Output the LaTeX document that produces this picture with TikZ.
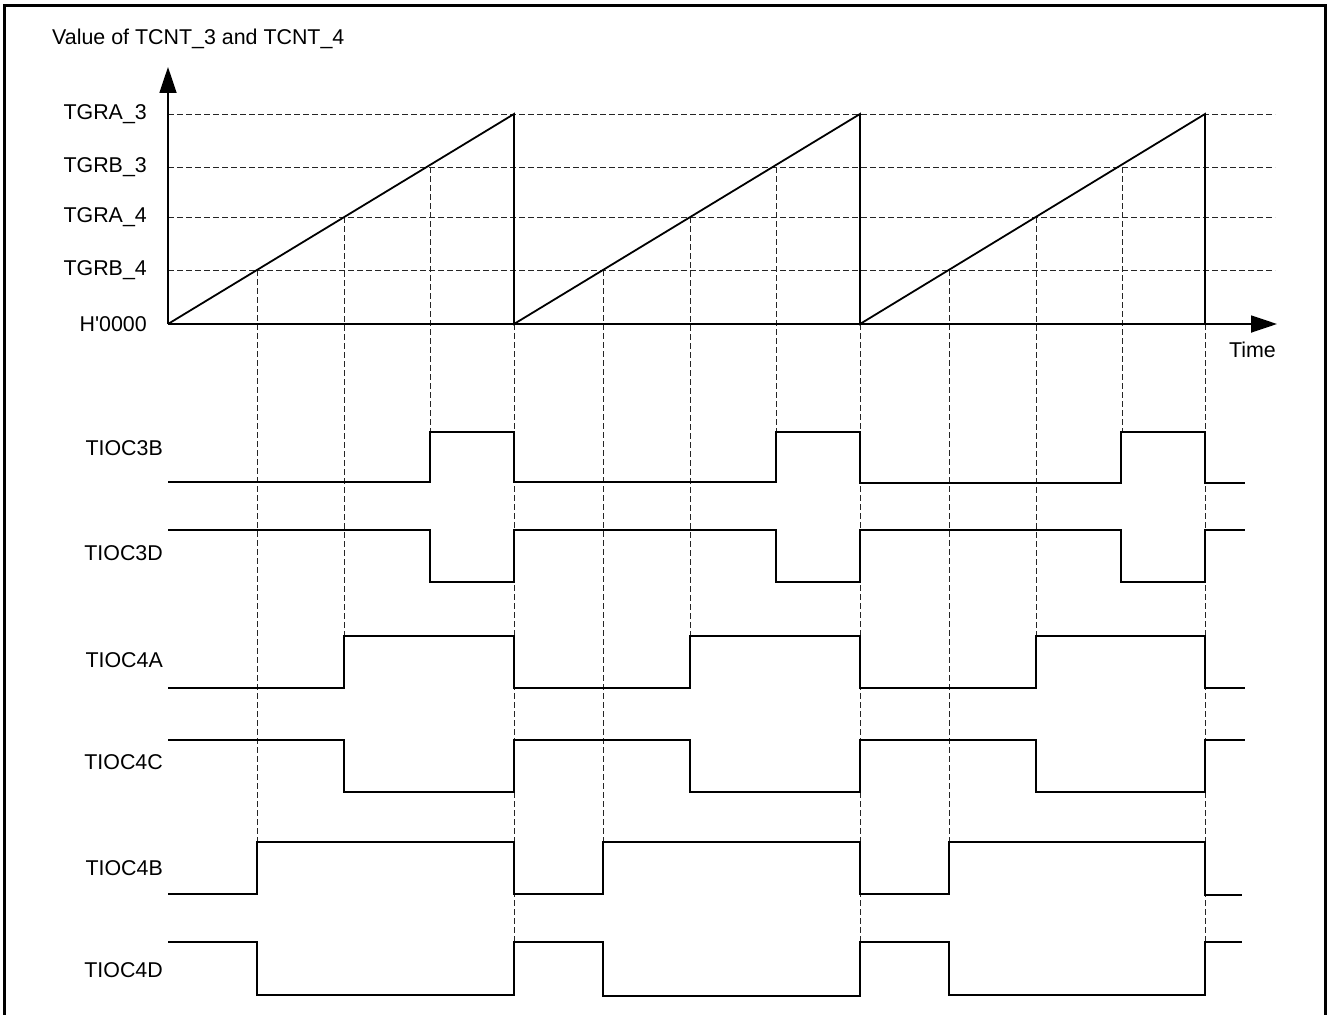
\documentclass[tikz,border=0pt]{standalone}
\usepackage{fontspec}
\setmainfont{Liberation Sans}
\usetikzlibrary{arrows.meta}
\begin{document}
\begin{tikzpicture}[x=1pt,y=-1pt,
  every node/.style={font=\fontsize{21.4}{25}\selectfont, inner sep=0pt},
  guide/.style={line width=0.9pt, dash pattern=on 5.5pt off 3.5pt, black!85},
  sig/.style={line width=1.8pt, line join=miter},
  axisline/.style={line width=1.8pt, -{Triangle[length=26pt,width=17pt]}},
  framel/.style={line width=3pt}]
\useasboundingbox (0,0) rectangle (1327,1014);
% frame
\draw[framel] (4,1020) -- (4,6) -- (1325,6) -- (1325,1020);
% title and axis labels
\node[anchor=west] (title) at (52,39) {Value of TCNT\_3 and TCNT\_4};
\node[anchor=east] (la3) at (147,114) {TGRA\_3};
\node[anchor=east] (lb3) at (147,167) {TGRB\_3};
\node[anchor=east] (la4) at (147,217) {TGRA\_4};
\node[anchor=east] (lb4) at (147,270) {TGRB\_4};
\node[anchor=east] (lz) at (147,324) {H\textquotesingle 0000};
\node[anchor=east] (time) at (1276,350) {Time};
% horizontal guide lines
\foreach \y in {114,167,217,270} \draw[guide] (168,\y) -- (1275,\y);
% vertical guide lines
\foreach \s in {0,346,692} {
  \draw[guide] (257+\s,270) -- (257+\s,842);
  \draw[guide] (344+\s,217) -- (344+\s,636);
  \draw[guide] (430+\s,167) -- (430+\s,432);
}
\foreach \x in {514,860,1205} \draw[guide] (\x,324) -- (\x,942);
% axes
\draw[axisline] (168,324) -- (168,67);
\draw[axisline] (168,324) -- (1277,324);
% ramp
\draw[sig] (168,324) -- (514,114) -- (514,324) -- (860,114) -- (860,324) -- (1205,114) -- (1205,324);
% signal labels
\node[anchor=east] (s1) at (163,448) {TIOC3B};
\node[anchor=east] (s2) at (163,553) {TIOC3D};
\node[anchor=east] (s3) at (163,660) {TIOC4A};
\node[anchor=east] (s4) at (163,762) {TIOC4C};
\node[anchor=east] (s5) at (163,868) {TIOC4B};
\node[anchor=east] (s6) at (163,970) {TIOC4D};
% TIOC3B
\draw[sig] (168,482) -- (430,482) -- (430,432) -- (514,432) -- (514,482) -- (776,482) -- (776,432) -- (860,432) -- (860,483) -- (1121,483) -- (1121,432) -- (1205,432) -- (1205,483) -- (1245,483);
% TIOC3D
\draw[sig] (168,530) -- (430,530) -- (430,582) -- (514,582) -- (514,530) -- (776,530) -- (776,582) -- (860,582) -- (860,530) -- (1121,530) -- (1121,582) -- (1205,582) -- (1205,530) -- (1245,530);
% TIOC4A
\draw[sig] (168,688) -- (344,688) -- (344,636) -- (514,636) -- (514,688) -- (690,688) -- (690,636) -- (860,636) -- (860,688) -- (1036,688) -- (1036,636) -- (1205,636) -- (1205,688) -- (1245,688);
% TIOC4C
\draw[sig] (168,740) -- (344,740) -- (344,792) -- (514,792) -- (514,740) -- (690,740) -- (690,792) -- (860,792) -- (860,740) -- (1036,740) -- (1036,792) -- (1205,792) -- (1205,740) -- (1245,740);
% TIOC4B
\draw[sig] (168,894) -- (257,894) -- (257,842) -- (514,842) -- (514,894) -- (603,894) -- (603,842) -- (860,842) -- (860,894) -- (949,894) -- (949,842) -- (1205,842) -- (1205,895) -- (1242,895);
% TIOC4D
\draw[sig] (168,942) -- (257,942) -- (257,995) -- (514,995) -- (514,942) -- (603,942) -- (603,996) -- (860,996) -- (860,942) -- (949,942) -- (949,995) -- (1205,995) -- (1205,942) -- (1242,942);
\end{tikzpicture}
\end{document}
